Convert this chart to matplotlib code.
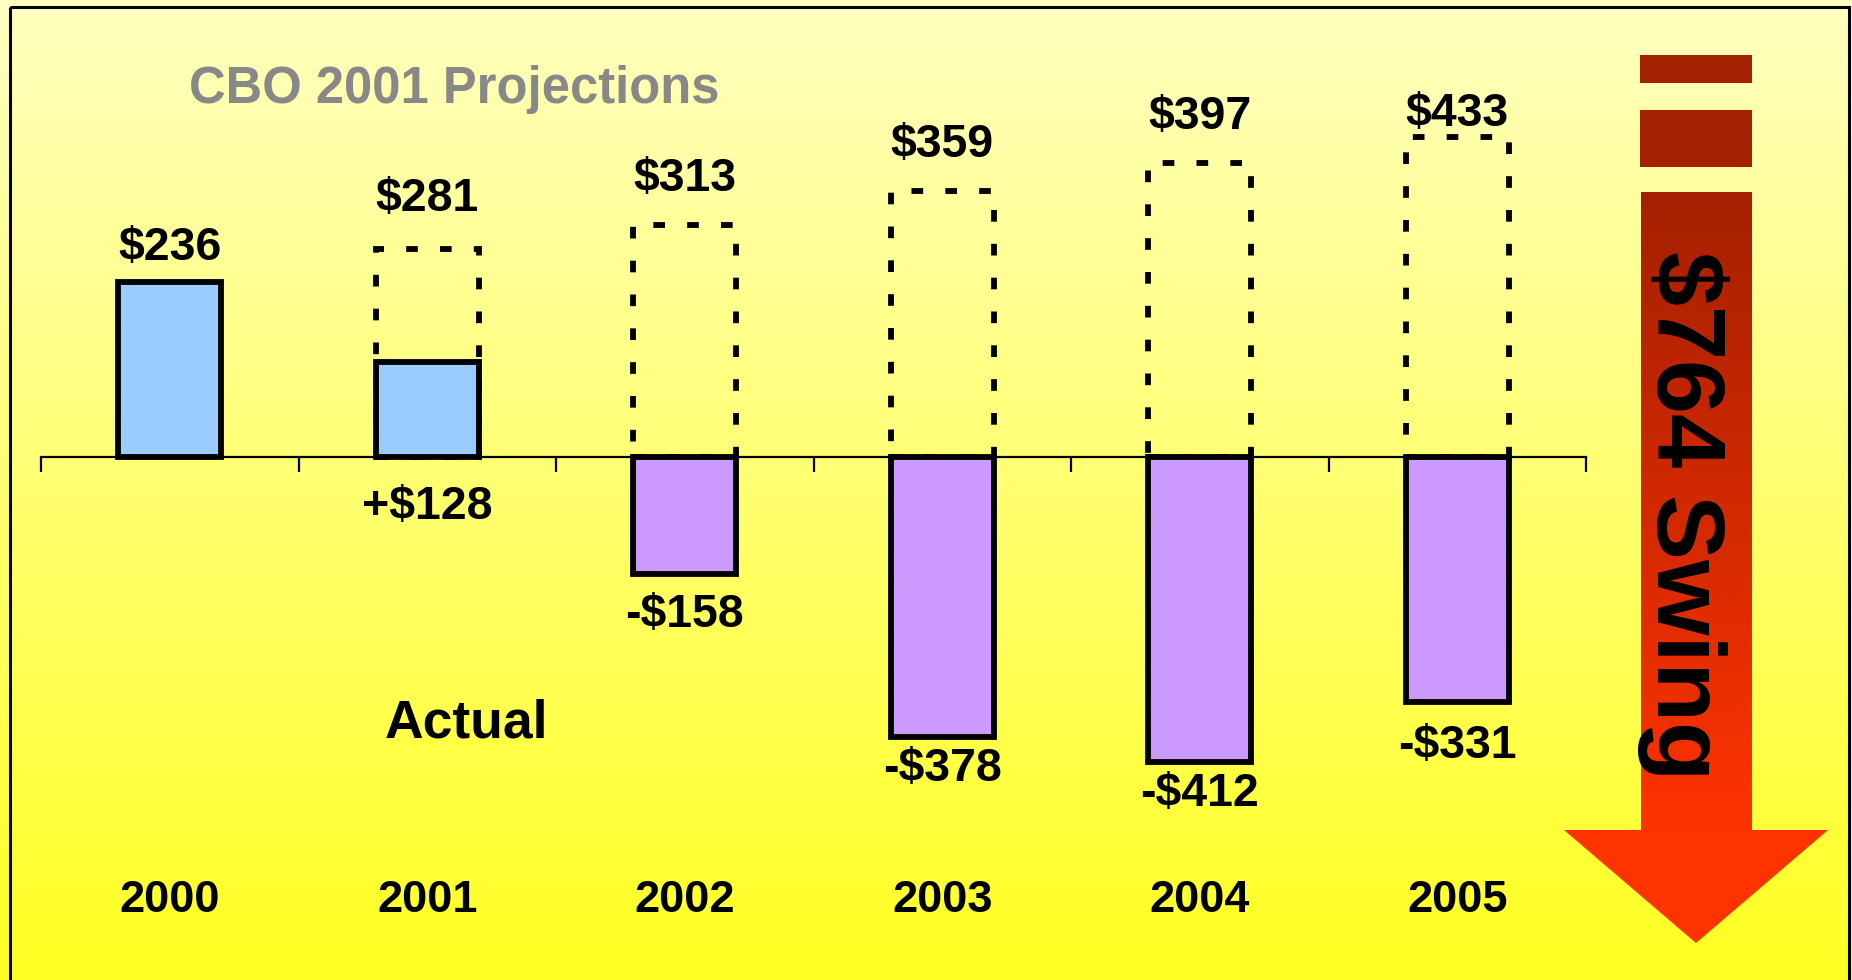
import numpy as np
import matplotlib.pyplot as plt
from matplotlib.colors import LinearSegmentedColormap
from matplotlib.patches import Polygon, Rectangle
from matplotlib.transforms import blended_transform_factory

plt.rcParams['font.family'] = ['Liberation Sans', 'DejaVu Sans']
plt.rcParams['font.weight'] = 'bold'

years = ["2000", "2001", "2002", "2003", "2004", "2005"]
actual = [236, 128, -158, -378, -412, -331]
projected = [np.nan, 281, 313, 359, 397, 433]
actual_labels = ["$236", "+$128", "-$158", "-$378", "-$412", "-$331"]
projected_labels = ["", "$281", "$313", "$359", "$397", "$433"]
swing_label = "$764 Swing"

# label offsets in pixels (up is positive)
actual_offsets = [34, -145, -41, -32, -32, -44]
projected_offsets = [0, 50, 46, 46, 46, 23]

W, H = 1852, 980
fig = plt.figure(figsize=(W / 100, H / 100), dpi=100)

# yellow gradient background
bg = fig.add_axes([0, 0, 1, 1], zorder=0)
grad = np.linspace(0, 1, 256).reshape(-1, 1)
bg_cmap = LinearSegmentedColormap.from_list("bg", ["#FFFFC0", "#FFFF22"])
bg.imshow(grad, aspect='auto', cmap=bg_cmap, extent=[0, 1, 0, 1])
bg.axis('off')

# main chart
ax = fig.add_axes([41 / W, 0, (1586 - 41) / W, 1], zorder=1)
ax.patch.set_alpha(0)
x = np.arange(len(years))
px_per_unit = 0.74
zero_px = 457
ax.set_ylim(-(H - zero_px) / px_per_unit, zero_px / px_per_unit)
ax.set_xlim(-0.5, len(years) - 0.5)

proj_x = [i for i in x if not np.isnan(projected[i])]
proj_v = [projected[i] for i in proj_x]
ax.bar(proj_x, proj_v, width=0.4, fill=False, edgecolor='black',
       linewidth=4.2, linestyle=(0, (2.0, 3.8)))
colors = ["#99CCFF" if v > 0 else "#CC99FF" for v in actual]
ax.bar(x, actual, width=0.4, color=colors, edgecolor='black', linewidth=4.2)

for s in ['top', 'right', 'left']:
    ax.spines[s].set_visible(False)
ax.spines['bottom'].set_position(('data', 0))
ax.spines['bottom'].set_linewidth(1.6)
ax.set_xticks(np.arange(-0.5, len(years), 1))
ax.tick_params(axis='x', direction='out', length=11, width=1.6, labelbottom=False)
ax.set_yticks([])

for i, v in enumerate(actual):
    ax.annotate(actual_labels[i], (i, v), xytext=(0, actual_offsets[i] * 0.72),
                textcoords='offset points', ha='center', va='center', fontsize=33.5)
for i in proj_x:
    ax.annotate(projected_labels[i], (i, projected[i]),
                xytext=(0, projected_offsets[i] * 0.72),
                textcoords='offset points', ha='center', va='center', fontsize=33.5)

trans = blended_transform_factory(ax.transData, fig.transFigure)
for i, yr in enumerate(years):
    ax.text(i, 1 - 900 / H, yr, transform=trans, ha='center', va='center', fontsize=32.5)

fig.text(189 / W, 1 - 89 / H, "CBO 2001 Projections", color='#888888',
         ha='left', va='center', fontsize=36.5)
fig.text(466 / W, 1 - 723 / H, "Actual", ha='center', va='center', fontsize=38.5)

# swing arrow in pixel coordinates
ov = fig.add_axes([0, 0, 1, 1], zorder=2)
ov.patch.set_alpha(0)
ov.add_patch(Rectangle((1640, 55), 112, 28, color='#A32000', lw=0))
ov.add_patch(Rectangle((1640, 110), 112, 57, color='#A32000', lw=0))
shaft_cmap = LinearSegmentedColormap.from_list("shaft", ["#A52000", "#FF3300"])
ov.imshow(grad, aspect='auto', cmap=shaft_cmap, extent=[1641, 1752, 830, 193])
ov.add_patch(Polygon([(1564, 830), (1828, 830), (1696, 943)], closed=True,
                     color='#FF3300', lw=0))
ov.text(1683, 516, swing_label, rotation=270, ha='center', va='center', fontsize=70)
ov.add_patch(Rectangle((10, 7), 1839, 990, fill=False, edgecolor='black', lw=2.2))
ov.set_xlim(0, W)
ov.set_ylim(H, 0)
ov.axis('off')

fig.savefig('out.png', dpi=100)
